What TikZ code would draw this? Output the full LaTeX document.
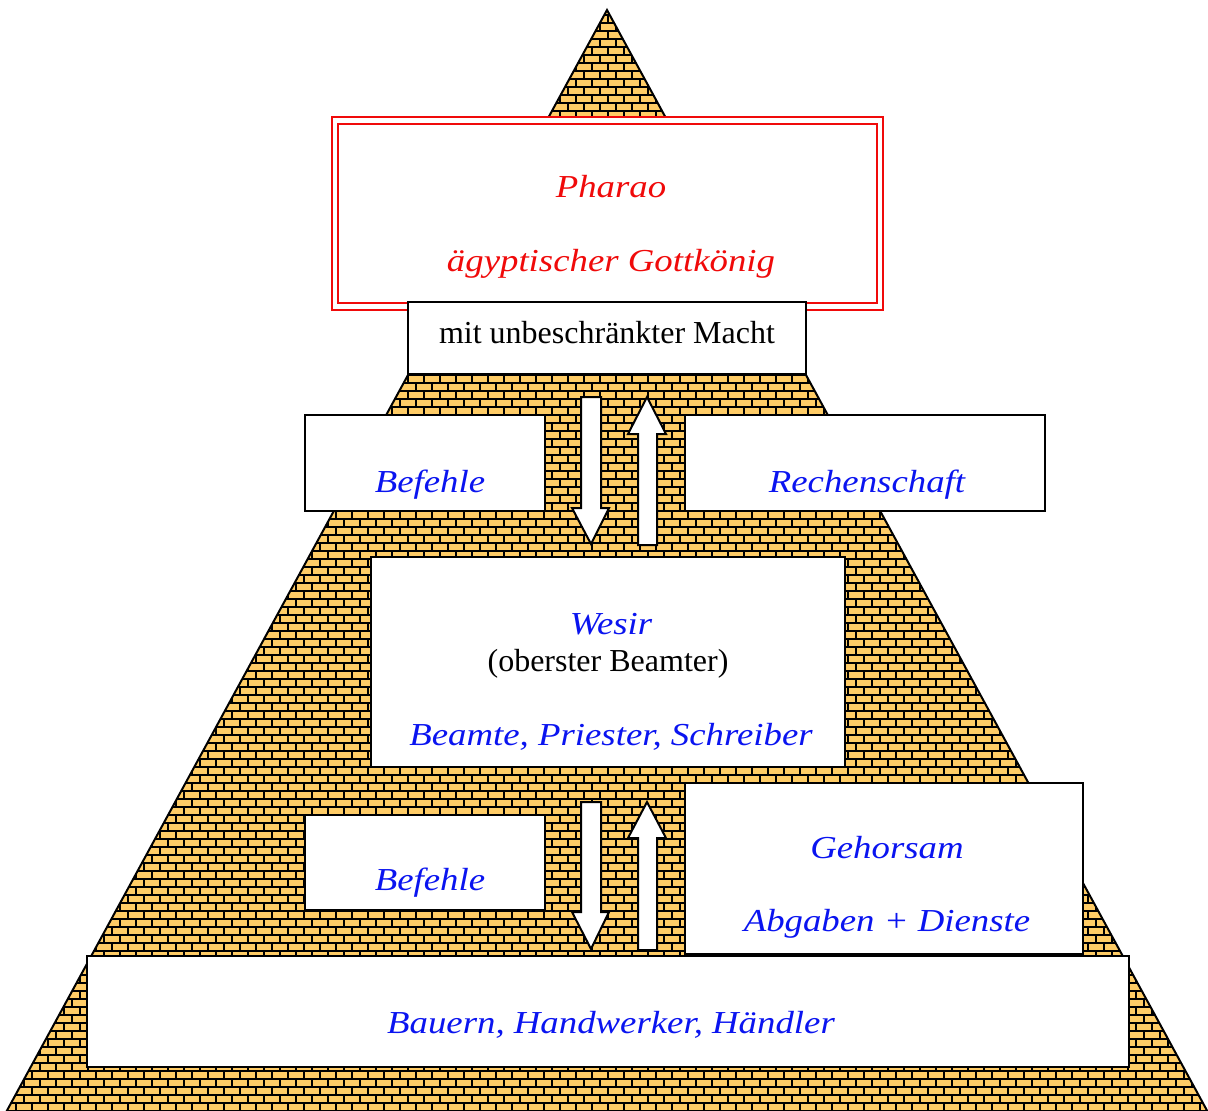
\documentclass[tikz,border=0pt]{standalone}
\usepackage{fontspec}
\setmainfont{Liberation Serif}
\newfontfamily\handfont[FakeStretch=1.15]{Liberation Serif Italic}
\usetikzlibrary{patterns}

\definecolor{brickfill}{HTML}{FFCC66}
\definecolor{handblue}{HTML}{0A14F0}
\definecolor{handred}{HTML}{F00A0A}

\pgfdeclarepatternformonly{pyrbricks}{\pgfpoint{-1pt}{-1pt}}{\pgfpoint{13pt}{13pt}}{\pgfpoint{12pt}{12pt}}{
  \pgfsetlinewidth{1.8pt}
  \pgfpathmoveto{\pgfpoint{0pt}{0pt}}\pgfpathlineto{\pgfpoint{12pt}{0pt}}
  \pgfpathmoveto{\pgfpoint{0pt}{6pt}}\pgfpathlineto{\pgfpoint{12pt}{6pt}}
  \pgfpathmoveto{\pgfpoint{0pt}{12pt}}\pgfpathlineto{\pgfpoint{12pt}{12pt}}
  \pgfpathmoveto{\pgfpoint{0pt}{0pt}}\pgfpathlineto{\pgfpoint{0pt}{6pt}}
  \pgfpathmoveto{\pgfpoint{12pt}{0pt}}\pgfpathlineto{\pgfpoint{12pt}{6pt}}
  \pgfpathmoveto{\pgfpoint{6pt}{6pt}}\pgfpathlineto{\pgfpoint{6pt}{12pt}}
  \pgfusepath{stroke}
}

\begin{document}
\begin{tikzpicture}[
        x=0.75pt, y=-0.75pt,
        boxsize/.style 2 args={minimum width={#1*0.75pt}, minimum height={#2*0.75pt}},
        whitebox/.style={draw=black, line width=1.5pt, fill=white, inner sep=0pt},
        redbox/.style={draw=handred, line width=0.8pt, fill=white, inner sep=0pt},
        handtext/.style={font=\handfont\fontsize{24}{28}\selectfont, text=handblue, anchor=base, inner sep=0pt},
        redtext/.style={handtext, text=handred},
        plaintext/.style={font=\fontsize{24}{28}\selectfont, text=black, anchor=base, inner sep=0pt},
        blockarrow/.style={draw=black, line width=1.5pt, fill=white, line join=miter},
        ]

        \useasboundingbox (0,0) rectangle (1208,1111);
        \clip (0,0) rectangle (1208,1111);

        % Pyramid
        \fill[brickfill] (607,10) -- (1210,1116) -- (4,1116) -- cycle;
        \fill[pattern=pyrbricks, pattern color=black] (607,10) -- (1210,1116) -- (4,1116) -- cycle;
        \draw[line width=1.5pt, line join=miter] (4,1116) -- (607,10) -- (1210,1116);

        % Pharao
        \node[redbox, boxsize={551}{193}] (pharaoout) at (607.5,213.5) {};
        \node[redbox, boxsize={539}{179}] (pharaoin) at (607.5,213.5) {};
        \node[redtext] (pharao) at (611,197) {Pharao};
        \node[redtext] (gottkoenig) at (611,271) {ägyptischer Gottkönig};
        \node[whitebox, boxsize={398}{72}] (macht) at (607,338) {};
        \node[plaintext] (machttext) at (607,343) {mit unbeschränkter Macht};

        % Upper level
        \node[whitebox, boxsize={240}{96}] (befehle1) at (425,463) {};
        \node[handtext] (befehle1text) at (430,492) {Befehle};
        \node[whitebox, boxsize={360}{96}] (rechenschaft) at (865,463) {};
        \node[handtext] (rechenschafttext) at (867,492) {Rechenschaft};

        \draw[blockarrow] (581,397) -- (601,397) -- (601,508) -- (609,508) -- (591,544)
              -- (572,508) -- (581,508) -- cycle;
        \draw[blockarrow] (638,545) -- (657,545) -- (657,434) -- (666,434) -- (647,397)
              -- (628,434) -- (638,434) -- cycle;

        % Wesir
        \node[whitebox, boxsize={474}{210}] (wesir) at (608,662) {};
        \node[handtext] (wesirtext) at (611,634) {Wesir};
        \node[plaintext] (beamter) at (608,671) {(oberster Beamter)};
        \node[handtext] (beamte) at (611,745) {Beamte, Priester, Schreiber};

        % Lower level
        \node[whitebox, boxsize={240}{95}] (befehle2) at (425,862.5) {};
        \node[handtext] (befehle2text) at (430,890) {Befehle};
        \node[whitebox, boxsize={398}{171}] (gehorsam) at (884,868.5) {};
        \node[handtext] (gehorsamtext) at (887,858) {Gehorsam};
        \node[handtext] (abgaben) at (887,931) {Abgaben + Dienste};

        \draw[blockarrow] (581,802) -- (601,802) -- (601,912) -- (609,912) -- (591,949)
              -- (572,912) -- (581,912) -- cycle;
        \draw[blockarrow] (638,950) -- (657,950) -- (657,838) -- (666,838) -- (647,802)
              -- (628,838) -- (638,838) -- cycle;

        % Bauern
        \node[whitebox, boxsize={1042}{111}] (bauern) at (608,1011.5) {};
        \node[handtext] (bauerntext) at (611,1033) {Bauern, Handwerker, Händler};

    \end{tikzpicture}
\end{document}
